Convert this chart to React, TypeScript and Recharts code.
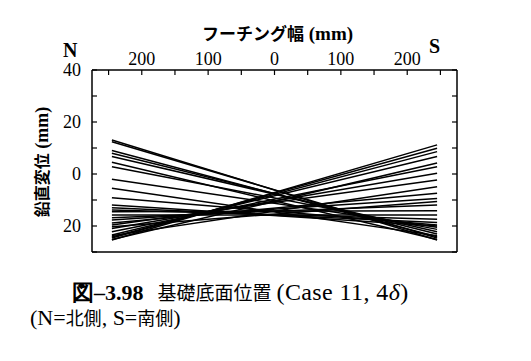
import React from 'react';
import { LineChart, Line, XAxis, YAxis } from 'recharts';

// Footing width positions of the measured ends (mm)
const X_ENDS = [-245, 245];
// Vertical displacement at the north (left) end of each measured base line (mm)
const LEFT_VALUES = [
  -25.4, -24.6, -24.2, -23.5, -25.2, -22.2, -21.0, -19.6, -23.7, -18.8, -20.3, -17.7, -16.8,
  -15.8,
  13.1, 12.4, 9.0, 8.0, 4.5, 6.7, 2.8, -2.0, -5.5, -9.1, -11.9, -13.0, -13.8, -14.5,
];
// Vertical displacement at the south (right) end of the same base lines (mm)
const RIGHT_VALUES = [
  11.2, 9.9, 8.6, 6.7, 4.2, 2.8, 0.3, -2.3, -4.9, -7.4, -10.6, -9.4, -11.9,
  -15.8,
  -25.4, -24.6, -24.1, -23.1, -25.2, -22.2, -21.3, -20.5, -23.7, -19.6, -20.0, -18.7, -17.4, -14.1,
];

const X_TICKS = [-250, -200, -150, -100, -50, 0, 50, 100, 150, 200, 250];
const X_LABEL_TICKS = [-200, -100, 0, 100, 200];
const Y_TICKS = [-30, -20, -10, 0, 10, 20, 30, 40];
const Y_LABEL_TICKS = [-20, 0, 20, 40];

const SERIF = '"Liberation Serif", "Times New Roman", "DejaVu Serif", serif';
const GOTHIC = '"Noto Sans CJK JP", "Noto Sans", sans-serif';

const lines = LEFT_VALUES.map((l, i) => [
  { x: X_ENDS[0], y: l },
  { x: X_ENDS[1], y: RIGHT_VALUES[i] },
]);

const TopTick = (props: any) => {
  const { x, y, payload } = props;
  const v = payload.value;
  return (
    <g>
      <line x1={x} x2={x} y1={y} y2={y + 5} stroke="#000" strokeWidth={1.2} />
      {X_LABEL_TICKS.includes(v) && (
        <text x={x} y={y - 5} textAnchor="middle" style={{ fontFamily: SERIF, fontSize: 18 }} fill="#000">
          {Math.abs(v)}
        </text>
      )}
    </g>
  );
};

const LeftTick = (props: any) => {
  const { x, y, payload } = props;
  const v = payload.value;
  return (
    <g>
      <line x1={x} x2={x + 5} y1={y} y2={y} stroke="#000" strokeWidth={1.2} />
      {Y_LABEL_TICKS.includes(v) && (
        <text x={x - 11} y={y + 6} textAnchor="end" style={{ fontFamily: SERIF, fontSize: 18 }} fill="#000">
          {Math.abs(v)}
        </text>
      )}
    </g>
  );
};

const RightTick = (props: any) => {
  const { x, y } = props;
  return <line x1={x} x2={x - 5} y1={y} y2={y} stroke="#000" strokeWidth={1.2} />;
};

const abs = (top: number, left: number, extra: React.CSSProperties = {}): React.CSSProperties => ({
  position: 'absolute',
  top,
  left,
  whiteSpace: 'nowrap',
  color: '#000',
  ...extra,
});

export default function App() {
  return (
    <div style={{ position: 'relative', width: 523, height: 353 }}>
      <LineChart width={523} height={353} margin={{ top: 32, right: 64, bottom: 108, left: 44 }}>
        <XAxis
          xAxisId="t"
          orientation="top"
          type="number"
          dataKey="x"
          domain={[-275, 275]}
          ticks={X_TICKS}
          interval={0}
          height={30}
          tickSize={0}
          tickMargin={0}
          tickLine={false}
          tick={TopTick}
          axisLine={{ stroke: '#000', strokeWidth: 1.5 }}
          allowDataOverflow
        />
        <XAxis
          xAxisId="b"
          orientation="bottom"
          type="number"
          dataKey="x"
          domain={[-275, 275]}
          height={1}
          tick={false}
          tickLine={false}
          axisLine={{ stroke: '#000', strokeWidth: 1.5 }}
          allowDataOverflow
        />
        <YAxis
          yAxisId="l"
          orientation="left"
          type="number"
          domain={[-30, 40]}
          ticks={Y_TICKS}
          interval={0}
          width={40}
          tickSize={0}
          tickMargin={0}
          tickLine={false}
          tick={LeftTick}
          axisLine={{ stroke: '#000', strokeWidth: 1.5 }}
          allowDataOverflow
        />
        <YAxis
          yAxisId="r"
          orientation="right"
          type="number"
          domain={[-30, 40]}
          ticks={Y_TICKS}
          interval={0}
          width={10}
          tickSize={0}
          tickMargin={0}
          tickLine={false}
          tick={RightTick}
          axisLine={{ stroke: '#000', strokeWidth: 1.5 }}
          allowDataOverflow
        />
        {lines.map((d, i) => (
          <Line
            key={i}
            xAxisId="t"
            yAxisId="l"
            data={d}
            dataKey="y"
            stroke="#000"
            strokeWidth={1.5}
            dot={false}
            isAnimationActive={false}
          />
        ))}
      </LineChart>
      <div style={abs(15, 194, { fontSize: 17, lineHeight: '20px' })}>
        <span style={{ fontFamily: GOTHIC, fontWeight: 700 }}>フーチング幅</span>
        <span style={{ fontFamily: SERIF, fontWeight: 700, fontSize: 19 }}> (mm)</span>
      </div>
      <div style={abs(32, 55, { fontFamily: SERIF, fontSize: 20, lineHeight: '20px', fontWeight: 700 })}>N</div>
      <div style={abs(28, 421, { fontFamily: SERIF, fontSize: 20, lineHeight: '20px', fontWeight: 700 })}>S</div>
      <div
        style={abs(154, 34, {
          fontSize: 16,
          lineHeight: '20px',
          transform: 'translate(-50%, -50%) rotate(-90deg)',
        })}
      >
        <span style={{ fontFamily: GOTHIC, fontWeight: 700 }}>鉛直変位</span>
        <span style={{ fontFamily: SERIF, fontWeight: 700, fontSize: 18 }}> (mm)</span>
      </div>
      <div style={abs(271, 64, { fontSize: 19, lineHeight: '26px' })}>
        <span style={{ fontFamily: SERIF, fontWeight: 700, fontSize: 22 }}>図–3.98</span>
        <span style={{ fontFamily: GOTHIC, marginLeft: 14 }}>基礎底面位置</span>
        <span style={{ fontFamily: SERIF, fontSize: 24, marginLeft: 5, letterSpacing: 0.4 }}>(Case 11, 4<i>δ</i>)</span>
      </div>
      <div style={abs(297, 22, { fontSize: 18, lineHeight: '24px' })}>
        <span style={{ fontFamily: SERIF, fontSize: 22 }}>(N=</span>
        <span style={{ fontFamily: GOTHIC }}>北側</span>
        <span style={{ fontFamily: SERIF, fontSize: 22 }}>, S=</span>
        <span style={{ fontFamily: GOTHIC }}>南側</span>
        <span style={{ fontFamily: SERIF, fontSize: 22 }}>)</span>
      </div>
    </div>
  );
}
